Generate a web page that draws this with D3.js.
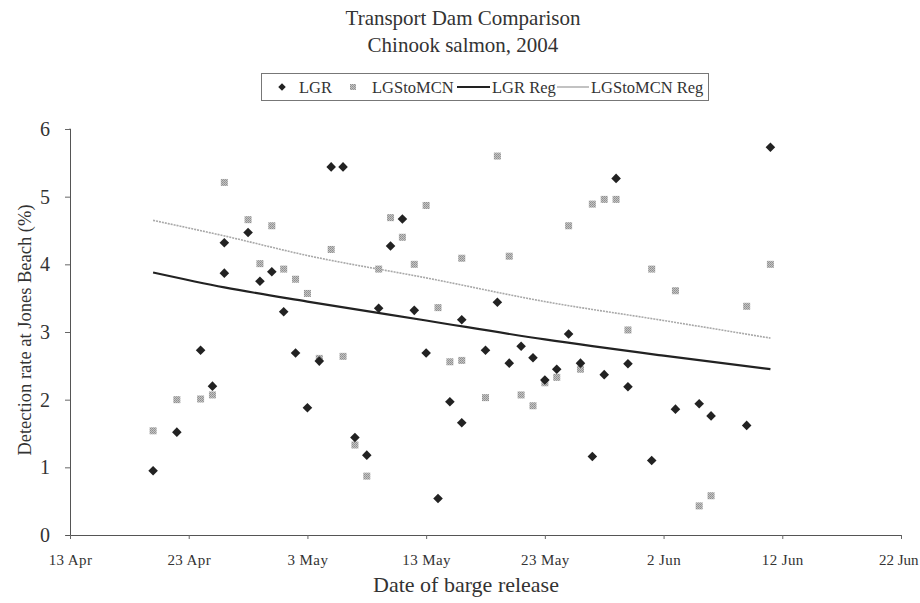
<!DOCTYPE html>
<html>
<head>
<meta charset="utf-8">
<script src="https://cdn.jsdelivr.net/npm/d3@7"></script>
<style>
  html, body { margin: 0; padding: 0; background: #fff; }
  svg { display: block; }
  text { font-family: "Liberation Serif", "DejaVu Serif", serif; fill: #333; }
</style>
</head>
<body>
<svg id="chart" width="920" height="603"></svg>
<script>
// Detection rate (%) at Jones Beach by barge release date, 2004
const lgrDates = ["2004-04-20","2004-04-22","2004-04-24","2004-04-25","2004-04-26","2004-04-26","2004-04-28","2004-04-29","2004-04-30","2004-05-01","2004-05-02","2004-05-03","2004-05-04","2004-05-05","2004-05-06","2004-05-07","2004-05-08","2004-05-09","2004-05-10","2004-05-11","2004-05-12","2004-05-13","2004-05-14","2004-05-15","2004-05-16","2004-05-16","2004-05-18","2004-05-19","2004-05-20","2004-05-21","2004-05-22","2004-05-23","2004-05-24","2004-05-25","2004-05-26","2004-05-27","2004-05-28","2004-05-29","2004-05-30","2004-05-30","2004-06-01","2004-06-03","2004-06-05","2004-06-06","2004-06-09","2004-06-11"];
const lgrValues = [0.95,1.52,2.73,2.20,4.32,3.87,4.47,3.75,3.89,3.30,2.69,1.88,2.57,5.44,5.44,1.44,1.18,3.35,4.27,4.67,3.32,2.69,0.54,1.97,3.18,1.66,2.73,3.44,2.54,2.79,2.62,2.29,2.45,2.97,2.54,1.16,2.37,5.27,2.53,2.19,1.10,1.86,1.94,1.76,1.62,5.73];

const mcnDates = ["2004-04-20","2004-04-22","2004-04-24","2004-04-25","2004-04-26","2004-04-28","2004-04-29","2004-04-30","2004-05-01","2004-05-02","2004-05-03","2004-05-04","2004-05-05","2004-05-06","2004-05-07","2004-05-08","2004-05-09","2004-05-10","2004-05-11","2004-05-12","2004-05-13","2004-05-14","2004-05-15","2004-05-16","2004-05-16","2004-05-18","2004-05-19","2004-05-20","2004-05-21","2004-05-22","2004-05-23","2004-05-24","2004-05-25","2004-05-26","2004-05-27","2004-05-28","2004-05-29","2004-05-30","2004-06-01","2004-06-03","2004-06-05","2004-06-06","2004-06-09","2004-06-11"];
const mcnValues = [1.54,2.00,2.01,2.07,5.21,4.66,4.01,4.57,3.93,3.78,3.57,2.61,4.22,2.64,1.33,0.87,3.93,4.69,4.40,4.00,4.87,3.36,2.56,2.58,4.09,2.03,5.60,4.12,2.07,1.91,2.25,2.33,4.57,2.45,4.89,4.96,4.96,3.03,3.93,3.61,0.43,0.58,3.38,4.00];

// Fitted regression curves, sampled along the season
const regDates = ["2004-04-20","2004-04-26","2004-05-03","2004-05-13","2004-05-23","2004-06-02","2004-06-11"];
const lgrRegValues = [3.88,3.66,3.45,3.17,2.89,2.65,2.45];
const mcnRegValues = [4.65,4.42,4.13,3.80,3.45,3.17,2.91];

const xTickDates = ["2004-04-13","2004-04-23","2004-05-03","2004-05-13","2004-05-23","2004-06-02","2004-06-12","2004-06-22"];
const yTicks = [0,1,2,3,4,5,6];

const parse = d3.timeParse("%Y-%m-%d");
const fmt = d3.timeFormat("%-d %b");
const zip = (ds, vs) => ds.map((d, i) => ({ date: parse(d), value: vs[i] }));
const lgr = zip(lgrDates, lgrValues);
const mcn = zip(mcnDates, mcnValues);
const lgrReg = zip(regDates, lgrRegValues);
const mcnReg = zip(regDates, mcnRegValues);

const svg = d3.select("#chart");
const plot = { left: 70, right: 901, top: 129, bottom: 535 };

const x = d3.scaleTime()
  .domain([parse(xTickDates[0]), parse(xTickDates[xTickDates.length - 1])])
  .range([plot.left, plot.right]);
const y = d3.scaleLinear().domain([0, 6]).range([plot.bottom, plot.top]);

// grainy fill for the LGStoMCN squares
const defs = svg.append("defs");
const pat = defs.append("pattern").attr("id", "hatch")
  .attr("width", 2).attr("height", 2).attr("patternUnits", "userSpaceOnUse");
pat.append("rect").attr("width", 2).attr("height", 2).attr("fill", "#c4c4c4");
pat.append("rect").attr("width", 1).attr("height", 1).attr("fill", "#8e8e8e");
pat.append("rect").attr("x", 1).attr("y", 1).attr("width", 1).attr("height", 1).attr("fill", "#9a9a9a");

// titles
svg.append("text").attr("x", 463).attr("y", 25).attr("text-anchor", "middle")
  .style("font-size", "21px").text("Transport Dam Comparison");
svg.append("text").attr("x", 463).attr("y", 52).attr("text-anchor", "middle")
  .style("font-size", "21px").text("Chinook salmon, 2004");

// axes
const yAxis = d3.axisLeft(y).tickValues(yTicks).tickSize(5).tickFormat(d3.format("d"));
const gy = svg.append("g").attr("transform", `translate(${plot.left},0)`).call(yAxis);
gy.select(".domain").attr("stroke", "#555").attr("d", `M-0.5,${plot.top}H0.5V${plot.bottom}`);
gy.selectAll(".tick line").attr("stroke", "#666");
gy.selectAll(".tick text").attr("x", -20).style("font-size", "20px")
  .style("font-family", "Liberation Serif, serif").attr("fill", "#333");

const xAxis = d3.axisBottom(x).tickValues(xTickDates.map(parse)).tickSize(4).tickFormat(fmt);
const gx = svg.append("g").attr("transform", `translate(0,${plot.bottom})`).call(xAxis);
gx.select(".domain").attr("stroke", "#555").attr("d", `M${plot.left - 4},0.5H${plot.right}`);
gx.selectAll(".tick line").attr("stroke", "#666");
gx.selectAll(".tick text").attr("y", 19).style("font-size", "15px").style("letter-spacing", "0.4px")
  .style("font-family", "Liberation Serif, serif").attr("fill", "#444");
// keep the last date label inside the page edge
gx.selectAll(".tick text").filter((d, i, n) => i === n.length - 1)
  .attr("text-anchor", "end").attr("x", 17).style("letter-spacing", "0px");

// axis titles
svg.append("text").attr("x", 466).attr("y", 592).attr("text-anchor", "middle")
  .style("font-size", "22px").text("Date of barge release");
svg.append("text").attr("transform", "translate(31,330) rotate(-90)").attr("text-anchor", "middle")
  .style("font-size", "18.5px").text("Detection rate at Jones Beach (%)");

// regression curves
const line = d3.line().x(d => x(d.date)).y(d => y(d.value)).curve(d3.curveMonotoneX);
svg.append("path").datum(mcnReg).attr("d", line).attr("fill", "none")
  .attr("stroke", "#a8a8a8").attr("stroke-width", 1.6).attr("stroke-dasharray", "2,1");
svg.append("path").datum(lgrReg).attr("d", line).attr("fill", "none")
  .attr("stroke", "#222").attr("stroke-width", 2.2);

// points
const sq = 7;
svg.append("g").selectAll("rect").data(mcn).join("rect")
  .attr("x", d => x(d.date) - sq / 2).attr("y", d => y(d.value) - sq / 2)
  .attr("width", sq).attr("height", sq).attr("fill", "url(#hatch)");

const diamond = d3.symbol().type(d3.symbolSquare).size(46);
svg.append("g").selectAll("path").data(lgr).join("path")
  .attr("d", diamond)
  .attr("transform", d => `translate(${x(d.date)},${y(d.value)}) rotate(45)`)
  .attr("fill", "#222");

// legend
const lg = svg.append("g");
lg.append("rect").attr("x", 261.5).attr("y", 73.5).attr("width", 447).attr("height", 27)
  .attr("fill", "none").attr("stroke", "#777");
lg.append("path").attr("d", d3.symbol().type(d3.symbolSquare).size(28))
  .attr("transform", "translate(282,87) rotate(45)").attr("fill", "#222");
lg.append("text").attr("x", 299).attr("y", 93).style("font-size", "16.5px").text("LGR");
lg.append("rect").attr("x", 350).attr("y", 84).attr("width", 6).attr("height", 6).attr("fill", "url(#hatch)");
lg.append("text").attr("x", 372).attr("y", 93).style("font-size", "16.5px").text("LGStoMCN");
lg.append("line").attr("x1", 457).attr("x2", 490).attr("y1", 87).attr("y2", 87)
  .attr("stroke", "#222").attr("stroke-width", 2);
lg.append("text").attr("x", 492).attr("y", 93).style("font-size", "16.5px").text("LGR Reg");
lg.append("line").attr("x1", 557).attr("x2", 589).attr("y1", 87).attr("y2", 87)
  .attr("stroke", "#a8a8a8").attr("stroke-width", 1.4);
lg.append("text").attr("x", 591).attr("y", 93).style("font-size", "16.5px").text("LGStoMCN Reg");
</script>
</body>
</html>
